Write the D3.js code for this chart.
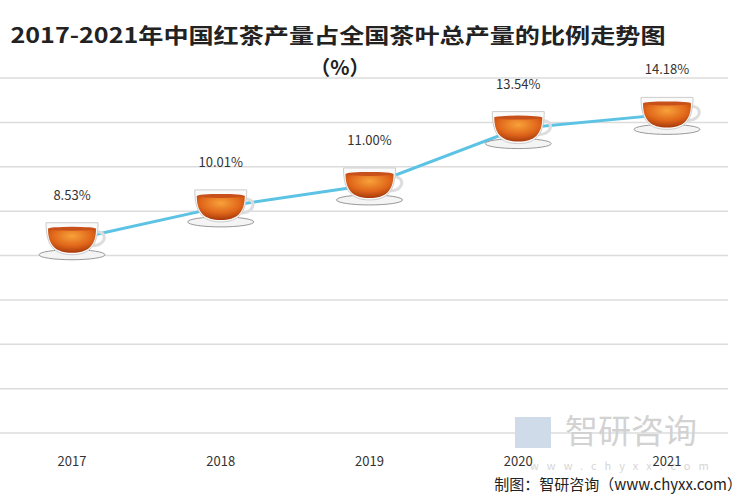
<!DOCTYPE html>
<html><head><meta charset="utf-8">
<script src="https://cdn.jsdelivr.net/npm/d3@7"></script>
<style>body{margin:0;background:#fff}svg{font-family:"Noto Sans CJK SC","Noto Sans",sans-serif}</style>
</head><body>
<svg id="chart" width="750" height="500"></svg>
<script>
var years = ["2017", "2018", "2019", "2020", "2021"];
var shares = [8.53, 10.01, 11.00, 13.54, 14.18];
var gridTicks = [0, 2, 4, 6, 8, 10, 12, 14, 16];

var svg = d3.select("#chart");
var x = d3.scalePoint().domain(years).range([72, 667]);
var y = d3.scaleLinear().domain([0, 16]).range([433, 78]);

var defs = svg.append("defs");
var tea = defs.append("radialGradient").attr("id", "tea").attr("cx", "50%").attr("cy", "30%").attr("r", "70%");
tea.append("stop").attr("offset", "0%").attr("stop-color", "#f7a23a");
tea.append("stop").attr("offset", "60%").attr("stop-color", "#e0661a");
tea.append("stop").attr("offset", "100%").attr("stop-color", "#a83a0c");

// grid
svg.append("g").selectAll("line").data(gridTicks).join("line")
  .attr("x1", 0).attr("x2", 728)
  .attr("y1", function(d) { return y(d); }).attr("y2", function(d) { return y(d); })
  .attr("stroke", "#dcdcdc").attr("stroke-width", 1.5);

// titles
svg.append("text").attr("x", 338).attr("y", 43).attr("text-anchor", "middle")
  .attr("font-size", 21).attr("font-weight", "bold").attr("fill", "#222")
  .attr("textLength", 655).attr("lengthAdjust", "spacingAndGlyphs")
  .text("2017-2021年中国红茶产量占全国茶叶总产量的比例走势图");
svg.append("text").attr("x", 340).attr("y", 75).attr("text-anchor", "middle")
  .attr("font-size", 20).attr("font-weight", "bold").attr("fill", "#222").text("（%）");

// watermark
svg.append("text").attr("x", 565).attr("y", 443).attr("font-size", 33).attr("fill", "#d2d2d2").text("智研咨询");
svg.append("rect").attr("x", 515).attr("y", 417).attr("width", 36).attr("height", 31).attr("fill", "#cfdbe8");
svg.append("text").attr("x", 530).attr("y", 470).attr("font-size", 11).attr("fill", "#d6d6d6")
  .attr("letter-spacing", 8).text("www.chyxx.com");

// line
svg.append("path").datum(shares)
  .attr("d", d3.line().x(function(d, i) { return x(years[i]); }).y(function(d) { return y(d) - 4; }))
  .attr("fill", "none").attr("stroke", "#5cc3e4").attr("stroke-width", 3);

// cups
var cups = svg.append("g").selectAll("g").data(shares).join("g")
  .attr("transform", function(d, i) { return "translate(" + x(years[i]) + "," + (y(d) - 4) + ")"; });
cups.append("ellipse").attr("cx", 0).attr("cy", 15).attr("rx", 33).attr("ry", 5)
  .attr("fill", "#f4f4f4").attr("stroke", "#999").attr("stroke-width", 1);
cups.append("path").attr("d", "M22,-8 C36,-10 36,6 20,6").attr("fill", "none").attr("stroke", "#ddd").attr("stroke-width", 3);
cups.append("path").attr("d", "M-26,-17 L26,-17 C26,6 18,15 0,15 C-18,15 -26,6 -26,-17 Z")
  .attr("fill", "#fafafa").attr("stroke", "#ccc");
cups.append("path").attr("d", "M-24,-11 L24,-11 C24,6 16,13 0,13 C-16,13 -24,6 -24,-11 Z")
  .attr("fill", "url(#tea)");
cups.append("ellipse").attr("cx", 0).attr("cy", -11).attr("rx", 24).attr("ry", 2).attr("fill", "#c8501a");

// value labels
svg.append("g").selectAll("text").data(shares).join("text")
  .attr("x", function(d, i) { return x(years[i]); })
  .attr("y", function(d) { return y(d) - 44; })
  .attr("text-anchor", "middle").attr("font-size", 13).attr("fill", "#333")
  .text(function(d) { return d.toFixed(2) + "%"; });

// x labels
svg.append("g").selectAll("text").data(years).join("text")
  .attr("x", function(d) { return x(d); }).attr("y", 466)
  .attr("text-anchor", "middle").attr("font-size", 13).attr("fill", "#333")
  .text(function(d) { return d; });

svg.append("text").attr("x", 742).attr("y", 490).attr("text-anchor", "end")
  .attr("font-size", 15).attr("fill", "#222").text("制图：智研咨询（www.chyxx.com）");
</script>
</body></html>
